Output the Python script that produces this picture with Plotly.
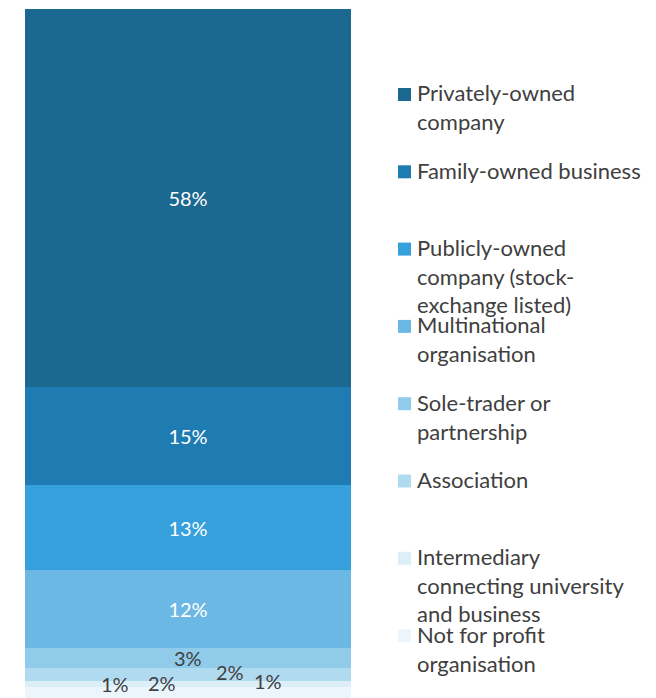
import plotly.graph_objects as go

# Organisation types, top of the stack first
categories = [
    "Privately-owned company",
    "Family-owned business",
    "Publicly-owned company (stock-exchange listed)",
    "Multinational organisation",
    "Sole-trader or partnership",
    "Association",
    "Intermediary connecting university and business",
    "Not for profit organisation",
    "Other",
]
legend_text = [
    "Privately-owned<br>company",
    "Family-owned business",
    "Publicly-owned<br>company (stock-<br>exchange listed)",
    "Multinational<br>organisation",
    "Sole-trader or<br>partnership",
    "Association",
    "Intermediary<br>connecting university<br>and business",
    "Not for profit<br>organisation",
    None,
]
shares = [58, 15, 13, 12, 3, 2, 1, 2, 1]
colors = ["#1b6890", "#1f7cb2", "#35a0dc", "#6cb8e4", "#91cbea",
          "#b0daf0", "#dceef8", "#ebf5fb", "#f4f9fc"]

# small labels sit beside each other below the bar body: (x in bar units, pixel shift)
small_label_pos = {4: (0.0, 0), 5: (0.13, 2), 6: (0.245, 3), 7: (-0.08, 11), 8: (-0.225, 19)}

FONT = "Lato"
TEXT = "#404040"
W, H = 656, 698
top_px = 9
plot_px = H - top_px
total = sum(shares)
y_bottom = 1.33


def to_paper(v):
    """Map a stack value onto the plot's paper fraction."""
    return (v - y_bottom) / (total - y_bottom)


fig = go.Figure()
# stack bottom-up: last category first
for i in reversed(range(len(categories))):
    big = shares[i] >= 10
    fig.add_trace(go.Bar(
        x=[0], y=[shares[i]], width=1,
        name=categories[i],
        marker=dict(color=colors[i], line=dict(width=0)),
        text=[f"{shares[i]}%"] if big else None,
        textposition="inside" if big else "none",
        insidetextanchor="middle",
        textfont=dict(color="white", size=20, family=FONT),
        showlegend=False,
        hoverinfo="name+y",
    ))

# labels for the thin segments
annotations = []
cum = 0
bottoms = {}
for i in reversed(range(len(categories))):
    bottoms[i] = cum
    cum += shares[i]
for i, (xx, shift) in small_label_pos.items():
    mid = bottoms[i] + shares[i] / 2
    annotations.append(dict(
        x=xx, y=to_paper(mid), xref="x", yref="paper", text=f"{shares[i]}%",
        xanchor="center", yanchor="middle",
        showarrow=False, yshift=shift,
        font=dict(size=20, family=FONT, color=TEXT),
    ))

# legend drawn as squares with wrapped text
shapes = []
first_px = 94.5
step_px = 77.3
sq = 13
for i, txt in enumerate(legend_text):
    if txt is None:
        continue
    cy = first_px + i * step_px
    shapes.append(dict(
        type="rect", xref="paper", yref="paper",
        x0=(398 - 25) / 326, x1=(398 + sq - 25) / 326,
        y0=1 - (cy + sq / 2 - top_px) / plot_px, y1=1 - (cy - sq / 2 - top_px) / plot_px,
        fillcolor=colors[i], line=dict(width=0),
    ))
    annotations.append(dict(
        x=(415 - 25) / 326, y=1 - (cy - 17 - top_px) / plot_px,
        xref="paper", yref="paper", xanchor="left", yanchor="top",
        align="left", text=txt, showarrow=False,
        font=dict(size=22, family=FONT, color=TEXT),
    ))

fig.update_layout(
    width=W, height=H,
    margin=dict(l=25, r=W - 351, t=top_px, b=0),
    barmode="stack",
    bargap=0,
    paper_bgcolor="white",
    plot_bgcolor="white",
    xaxis=dict(range=[-0.5, 0.5], visible=False, fixedrange=True),
    yaxis=dict(range=[y_bottom, total], visible=False, fixedrange=True),
    annotations=annotations,
    shapes=shapes,
    showlegend=False,
    uniformtext=dict(minsize=20, mode="show"),
)

fig.write_html("out.html")
